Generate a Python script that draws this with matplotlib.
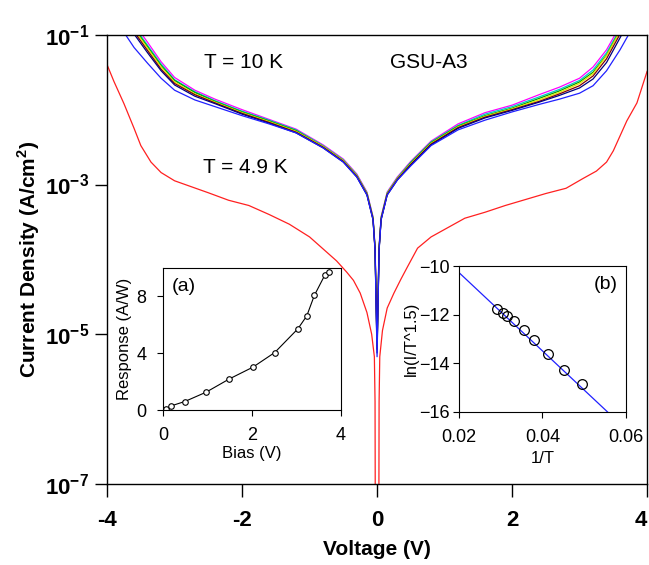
import numpy as np
import matplotlib
matplotlib.use("Agg")
import matplotlib.pyplot as plt

plt.rcParams['font.family'] = ['Liberation Sans', 'DejaVu Sans']
plt.rcParams['mathtext.fontset'] = 'custom'
plt.rcParams['mathtext.rm'] = 'Liberation Sans'
plt.rcParams['mathtext.bf'] = 'Liberation Sans:bold'

# --- main panel: log10 of current density vs voltage ---
v10 = [-4.0, -3.8, -3.6, -3.4, -3.2, -3.0, -2.7, -2.4, -2.0, -1.6, -1.2, -0.8, -0.5, -0.3,
       -0.15, -0.06, -0.03, 0.0, 0.03, 0.06, 0.15, 0.3, 0.5, 0.8, 1.2, 1.6, 2.0, 2.4, 2.7,
       3.0, 3.2, 3.4, 3.6, 3.8, 4.0]

curves_10k = {
    '#ff00ff': [-0.2, -0.5, -0.85, -1.1, -1.36, -1.57, -1.74, -1.86, -2.0, -2.13, -2.26, -2.47, -2.66, -2.86,
                -3.1, -3.43, -3.82, -5.0, -3.82, -3.43, -3.1, -2.9, -2.69, -2.42, -2.19, -2.04, -1.94, -1.8, -1.7,
                -1.58, -1.43, -1.2, -0.88, -0.5, -0.2],
    '#00c8c8': [-0.25, -0.55, -0.89, -1.14, -1.39, -1.6, -1.76, -1.88, -2.02, -2.14, -2.27, -2.48, -2.67, -2.87,
                -3.11, -3.44, -3.84, -5.1, -3.84, -3.44, -3.11, -2.91, -2.7, -2.43, -2.21, -2.06, -1.96, -1.83, -1.73,
                -1.61, -1.47, -1.24, -0.92, -0.55, -0.25],
    '#00a000': [-0.28, -0.58, -0.91, -1.16, -1.41, -1.61, -1.77, -1.89, -2.03, -2.15, -2.28, -2.49, -2.68, -2.88,
                -3.12, -3.45, -3.85, -5.15, -3.85, -3.45, -3.12, -2.92, -2.71, -2.44, -2.22, -2.08, -1.98, -1.85, -1.75,
                -1.63, -1.5, -1.27, -0.94, -0.58, -0.28],
    '#e8e800': [-0.3, -0.6, -0.93, -1.18, -1.43, -1.63, -1.79, -1.9, -2.04, -2.16, -2.29, -2.49, -2.68, -2.88,
                -3.12, -3.45, -3.85, -5.2, -3.85, -3.45, -3.12, -2.92, -2.72, -2.45, -2.23, -2.09, -1.99, -1.87, -1.77,
                -1.65, -1.52, -1.28, -0.95, -0.6, -0.3],
    '#800000': [-0.33, -0.63, -0.96, -1.21, -1.46, -1.65, -1.8, -1.91, -2.05, -2.17, -2.3, -2.5, -2.69, -2.89,
                -3.13, -3.46, -3.86, -5.2, -3.86, -3.46, -3.13, -2.93, -2.73, -2.46, -2.24, -2.1, -2.0, -1.89, -1.79,
                -1.68, -1.55, -1.32, -0.99, -0.64, -0.33],
    '#000080': [-0.36, -0.66, -0.99, -1.24, -1.48, -1.67, -1.82, -1.92, -2.06, -2.18, -2.31, -2.51, -2.7, -2.9,
                -3.14, -3.47, -3.87, -5.25, -3.87, -3.47, -3.14, -2.94, -2.74, -2.47, -2.25, -2.11, -2.01, -1.9, -1.81,
                -1.71, -1.59, -1.37, -1.04, -0.7, -0.38],
    '#2020ff': [-0.6, -0.9, -1.17, -1.38, -1.58, -1.74, -1.87, -1.96, -2.08, -2.19, -2.31, -2.51, -2.7, -2.9,
                -3.14, -3.47, -3.88, -5.3, -3.88, -3.47, -3.14, -2.94, -2.75, -2.48, -2.27, -2.14, -2.03, -1.93, -1.86,
                -1.78, -1.68, -1.48, -1.2, -0.88, -0.5],
}

v49 = [-4.0, -3.9, -3.75, -3.6, -3.5, -3.35, -3.2, -3.0, -2.75, -2.5, -2.2, -1.9, -1.6, -1.3, -1.0, -0.8,
       -0.6, -0.45, -0.35, -0.25, -0.15, -0.08, -0.04, -0.03, -0.025, 0.025, 0.03, 0.04, 0.08, 0.15, 0.25,
       0.35, 0.45, 0.6, 0.8, 1.0, 1.3, 1.6, 1.9, 2.2, 2.5, 2.8, 3.05, 3.25, 3.4, 3.5, 3.6, 3.7, 3.85, 4.0]
logj49 = [-1.40, -1.62, -1.92, -2.25, -2.48, -2.7, -2.84, -2.95, -3.03, -3.11, -3.21, -3.28, -3.4, -3.53,
          -3.7, -3.86, -4.02, -4.17, -4.28, -4.45, -4.71, -5.0, -5.3, -5.9, -8.0, -8.0, -5.9, -5.3, -4.95,
          -4.65, -4.45, -4.27, -4.1, -3.85, -3.7, -3.6, -3.45, -3.37, -3.28, -3.2, -3.12, -3.05, -2.92, -2.82,
          -2.7, -2.55, -2.35, -2.15, -1.91, -1.49]

# --- inset (a): responsivity vs bias ---
bias = [0.075, 0.17, 0.49, 0.97, 1.49, 2.02, 2.51, 3.03, 3.23, 3.40, 3.64, 3.73]
response = [0.09, 0.28, 0.6, 1.26, 2.19, 3.02, 4.05, 5.72, 6.63, 8.07, 9.53, 9.7]

# --- inset (b): Arrhenius plot ---
inv_t = [0.0292, 0.0306, 0.0314, 0.0331, 0.0355, 0.0380, 0.0413, 0.0451, 0.0495]
ln_i = [-11.77, -11.93, -12.04, -12.26, -12.64, -13.05, -13.61, -14.27, -14.84]
fit_x = [0.02, 0.0556]
fit_y = [-10.27, -16.0]

fig = plt.figure(figsize=(6.49, 5.65), dpi=100)
ax = fig.add_axes([0.165, 0.1434, 0.832, 0.795])

for color, vals in curves_10k.items():
    ax.plot(v10, 10 ** np.array(vals), color=color, lw=0.9)
ax.plot(v49, 10 ** np.array(logj49), color='#ff2020', lw=0.9)

ax.set_yscale('log')
ax.set_xlim(-4, 4)
ax.set_ylim(1e-7, 1e-1)
ax.set_xticks([-4, -2, 0, 2, 4])
ax.set_xticklabels(['-4', '-2', '0', '2', '4'], fontsize=16, fontweight='bold')
ax.get_xticklabels()[-1].set_horizontalalignment('right')
ax.set_yticks([1e-7, 1e-5, 1e-3, 1e-1])
ax.set_yticklabels([r'$\mathbf{10^{-7}}$', r'$\mathbf{10^{-5}}$', r'$\mathbf{10^{-3}}$',
                    r'$\mathbf{10^{-1}}$'], fontsize=16)
ax.yaxis.set_minor_locator(matplotlib.ticker.NullLocator())
ax.tick_params(direction='out', length=9, width=1)
ax.tick_params(axis='x', pad=10)
ax.tick_params(axis='y', pad=4)
ax.set_xlabel('Voltage (V)', fontsize=15, fontweight='bold', labelpad=6)
ax.set_ylabel('Current Density (A/cm$^\\mathbf{2}$)', fontsize=15, fontweight='bold', labelpad=2)
for s in ax.spines.values():
    s.set_linewidth(1)

ax.text(-1.98, 10 ** -1.37, 'T = 10 K', fontsize=15, ha='center', va='center')
ax.text(0.19, 10 ** -1.37, 'GSU-A3', fontsize=15, ha='left', va='center')
ax.text(-1.95, 10 ** -2.77, 'T = 4.9 K', fontsize=15, ha='center', va='center')

# inset (a)
axa = fig.add_axes([0.2512, 0.2743, 0.2743, 0.2513])
axa.plot(bias, response, color='black', lw=0.8, marker='o', ms=4, mfc='white', mec='black', mew=0.8)
axa.set_xlim(0, 4)
axa.set_ylim(0, 10)
axa.set_xticks([0, 2, 4])
axa.set_yticks([0, 4, 8])
axa.tick_params(direction='out', length=4, labelsize=13)
axa.tick_params(axis='x', pad=8)
axa.tick_params(axis='y', pad=8)
axa.set_xlabel('Bias (V)', fontsize=12, labelpad=2)
axa.set_ylabel('Response (A/W)', fontsize=12, labelpad=3)
axa.text(0.05, 0.93, '(a)', transform=axa.transAxes, fontsize=14, va='top')

# inset (b)
axb = fig.add_axes([0.7072, 0.2708, 0.2573, 0.2584])
axb.plot(fit_x, fit_y, color='#2020ff', lw=0.9)
axb.plot(inv_t, ln_i, ls='none', marker='o', ms=7, mfc='none', mec='black', mew=0.9)
axb.set_xlim(0.02, 0.06)
axb.set_ylim(-16, -10)
axb.set_xticks([0.02, 0.04, 0.06])
axb.set_xticklabels(['0.02', '0.04', '0.06'])
axb.set_yticks([-16, -14, -12, -10])
axb.tick_params(direction='out', length=4, labelsize=13)
axb.tick_params(axis='x', pad=8)
axb.tick_params(axis='y', pad=3)
axb.set_xlabel('1/T', fontsize=12, labelpad=4)
axb.set_ylabel('ln(I/T^1.5)', fontsize=12, labelpad=0)
axb.text(0.95, 0.93, '(b)', transform=axb.transAxes, fontsize=14, va='top', ha='right')

fig.savefig('out.png', dpi=100)
